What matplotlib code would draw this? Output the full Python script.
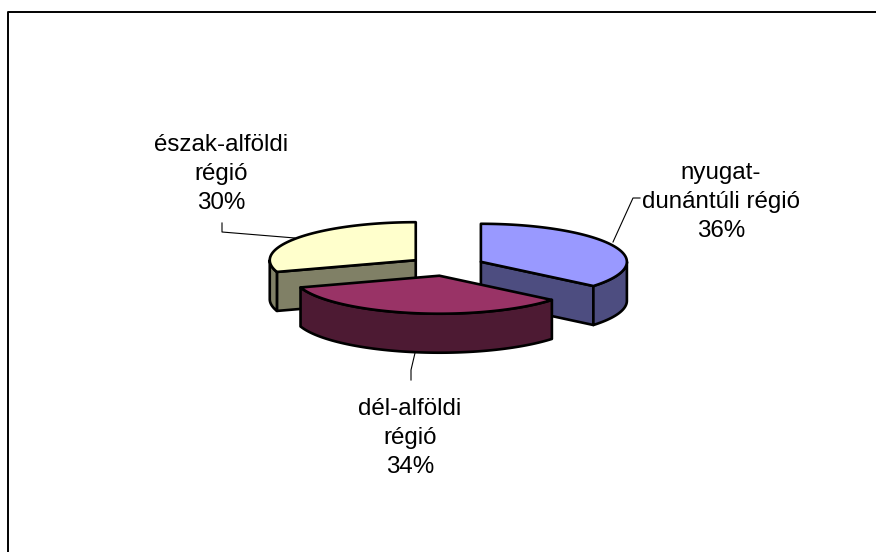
import numpy as np
import matplotlib.pyplot as plt
from matplotlib.patches import Polygon

# data
regions = ['nyugat-\ndunántúli régió', 'dél-alföldi\nrégió', 'észak-alföldi\nrégió']
shares = [36, 34, 30]
top_colors = ['#9999FF', '#993366', '#FFFFCC']
side_colors = ['#4D4D80', '#4D1A33', '#808066']

# layout (pixels)
cx, cy = 446.5, 266
rx, ry = 146, 38
depth = 39
explode = 38
label_pos = [(721, 237), (410, 473), (221, 209)]
leaders = [
    [(613, 242), (633, 198), (640, 198)],
    [(415, 353), (411, 370), (411, 380)],
    [(295, 238), (222, 232), (222, 223)],
]

plt.rcParams['font.family'] = ['Liberation Sans', 'DejaVu Sans']
fig = plt.figure(figsize=(8.76, 5.52), dpi=100)
ax = fig.add_axes([0, 0, 1, 1])
ax.set_xlim(0, 876)
ax.set_ylim(552, 0)
ax.axis('off')

# outer frame
ax.plot([8, 8, 876], [552, 12, 12], color='black', lw=1.4)


def rim(ox, oy, t, dz=0):
    # t in degrees, clockwise from 12 o'clock
    r = np.radians(t)
    return ox + rx * np.sin(r), oy - ry * np.cos(r) + dz


bounds = np.concatenate([[0], np.cumsum(shares)]) / sum(shares) * 360
# draw back slices first, front slice (dél-alföldi) last
order = [0, 2, 1]
for i in order:
    t1, t2 = bounds[i], bounds[i + 1]
    mid = np.radians((t1 + t2) / 2)
    ox = cx + explode * np.sin(mid)
    oy = cy - explode * (ry / rx) * np.cos(mid)
    ec = dict(edgecolor='black', lw=1.9, joinstyle='round')

    # radial faces
    for t, nrm in ((t1, t1 - 90), (t2, t2 + 90)):
        if np.cos(np.radians(nrm)) < -1e-6:
            x, y = rim(ox, oy, t)
            face = [(ox, oy), (x, y), (x, y + depth), (ox, oy + depth)]
            ax.add_patch(Polygon(face, closed=True, facecolor=side_colors[i], **ec))

    # outer side, visible part only (90..270)
    a, b = max(t1, 90), min(t2, 270)
    if b > a:
        ts = np.linspace(a, b, 80)
        xs, ys = rim(ox, oy, ts)
        pts = list(zip(xs, ys)) + list(zip(xs[::-1], ys[::-1] + depth))
        ax.add_patch(Polygon(pts, closed=True, facecolor=side_colors[i], **ec))

    # top face
    ts = np.linspace(t1, t2, 120)
    xs, ys = rim(ox, oy, ts)
    pts = [(ox, oy)] + list(zip(xs, ys))
    ax.add_patch(Polygon(pts, closed=True, facecolor=top_colors[i], **ec))

for i in range(len(regions)):
    ln = leaders[i]
    ax.plot([p[0] for p in ln], [p[1] for p in ln], color='black', lw=0.8)
    ax.text(label_pos[i][0], label_pos[i][1], f'{regions[i]}\n{shares[i]}%',
            ha='center', va='baseline', fontsize=17.4, linespacing=1.42,
            multialignment='center')

fig.savefig('out.png', dpi=100)
